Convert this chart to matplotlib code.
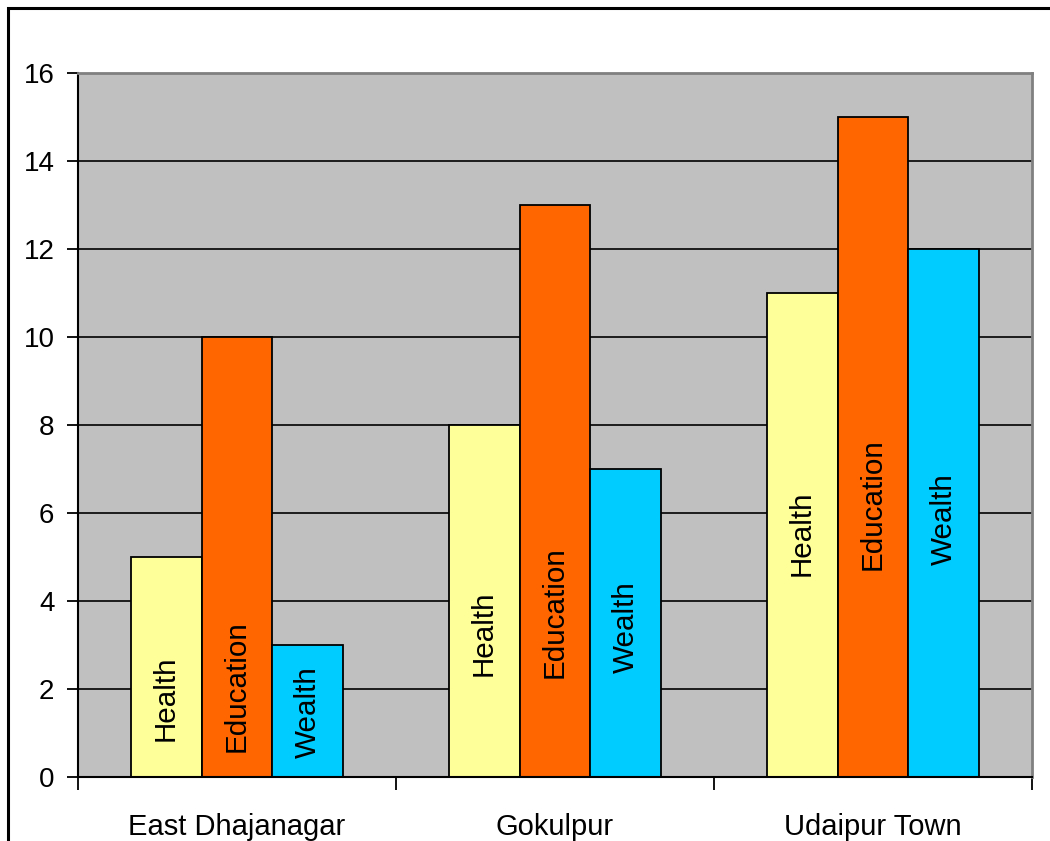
import numpy as np
import matplotlib
matplotlib.use('Agg')
import matplotlib.pyplot as plt
from matplotlib.patches import Rectangle

# Dati
places = ['East Dhajanagar', 'Gokulpur', 'Udaipur Town']
series_names = ['Health', 'Education', 'Wealth']
health = [5, 8, 11]
education = [10, 13, 15]
wealth = [3, 7, 12]

# Posizione verticale delle etichette interne (come nell'originale)
label_y = [[1.8, 3.27, 5.55],
           [2.07, 3.75, 6.2],
           [1.48, 3.4, 5.85]]

colors = ['#FFFF99', '#FF6600', '#00CCFF']

plt.rcParams['font.family'] = ['Liberation Sans', 'DejaVu Sans']

fig = plt.figure(figsize=(10.5, 8.41), dpi=100)
ax = fig.add_axes([78 / 1050, 1 - 777 / 841, (1032 - 78) / 1050, (777 - 73) / 841])
ax.set_facecolor('#C0C0C0')

# cornice esterna
fig.patches.append(Rectangle((8 / 1050, -0.1), 1.2, 1 - 8 / 841 + 0.1,
                             transform=fig.transFigure, fill=False,
                             edgecolor='black', linewidth=2.2, zorder=0))

x = np.arange(len(places))
width = 0.223
values = [health, education, wealth]

for i, vals in enumerate(values):
    pos = x + (i - 1) * width
    ax.bar(pos, vals, width=width, color=colors[i], edgecolor='black',
           linewidth=1.3, zorder=3)
    for j in range(len(places)):
        ax.text(pos[j], label_y[i][j], series_names[i], rotation=90,
                ha='center', va='center', fontsize=21.3, zorder=4)

ax.set_xlim(-0.5, 2.5)
ax.set_ylim(0, 16)
ax.set_yticks(range(0, 17, 2))
ax.set_xticks(x)
ax.set_xticklabels(places, fontsize=21)
ax.set_xticks([-0.5, 0.5, 1.5, 2.5], minor=True)
ax.tick_params(axis='x', which='major', length=0, pad=26)
ax.tick_params(axis='x', which='minor', length=9, width=1.3, direction='out')
ax.tick_params(axis='y', length=8, width=1.3, labelsize=20, pad=9)

ax.yaxis.grid(True, color='black', linewidth=1.2, zorder=1)
ax.set_axisbelow(True)

ax.spines['left'].set_linewidth(1.5)
ax.spines['bottom'].set_linewidth(1.5)
ax.spines['bottom'].set_zorder(5)
ax.spines['top'].set_color('#808080')
ax.spines['right'].set_color('#808080')
ax.spines['top'].set_linewidth(2)
ax.spines['right'].set_linewidth(2)

fig.savefig('out.png', dpi=100)
